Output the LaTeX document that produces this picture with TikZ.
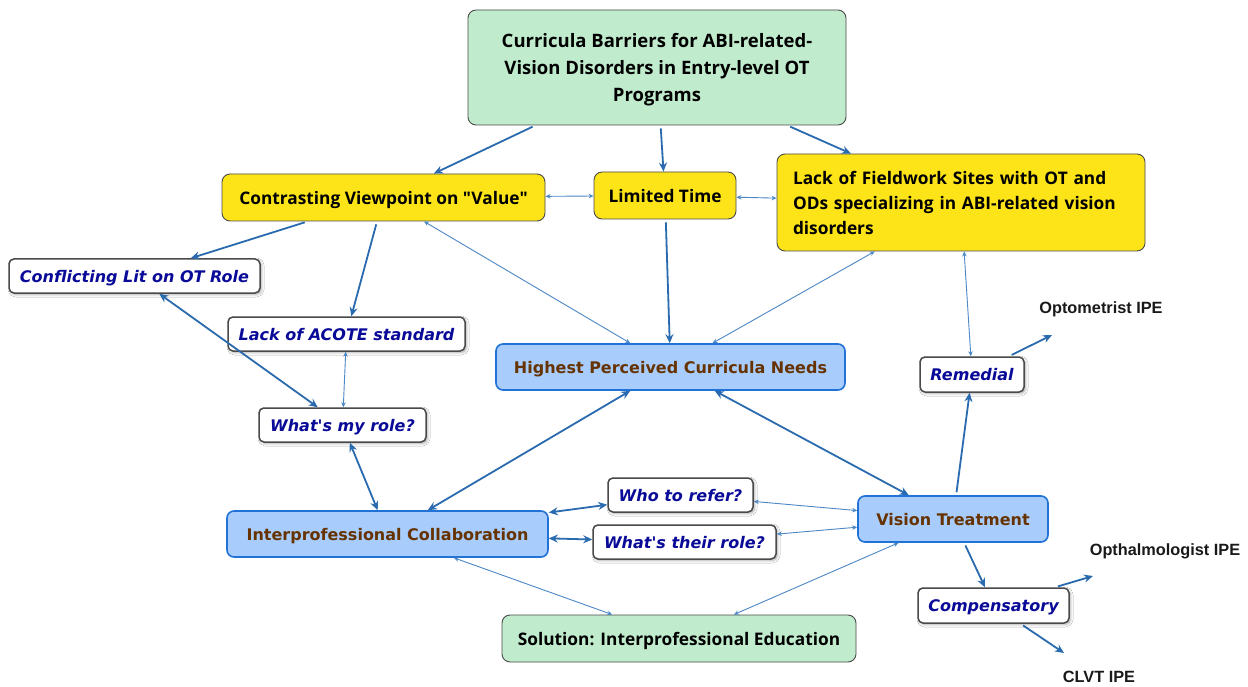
\documentclass[tikz,border=0pt]{standalone}
\usepackage{fontspec}
\setmainfont{Open Sans}[Ligatures=TeXOff]
\newfontfamily\verafont{DejaVu Sans}
\newfontfamily\arialfont{Liberation Sans}
\usetikzlibrary{arrows.meta,shadows.blur}

\definecolor{greenfill}{HTML}{C0ECCD}
\definecolor{yellowfill}{HTML}{FDE418}
\definecolor{bluefill}{HTML}{A8CCFC}
\definecolor{blueedge}{HTML}{2172D6}
\definecolor{boxedge}{HTML}{4A4A4A}
\definecolor{navytext}{HTML}{0A0A99}
\definecolor{browntext}{HTML}{663300}
\definecolor{linkdark}{HTML}{2A6AAE}
\definecolor{linklight}{HTML}{4C87C6}

\tikzset{
  basebox/.style={inner sep=0pt, align=center, text depth=0pt},
  greenbox/.style={basebox, draw=boxedge, fill=greenfill, rounded corners=8pt, line width=0.9pt,
    font=\fontsize{17.3}{27}\selectfont\bfseries},
  yellowbox/.style={basebox, draw=boxedge, fill=yellowfill, rounded corners=8pt, line width=0.9pt,
    font=\fontsize{17.3}{25}\selectfont\bfseries},
  bluebox/.style={basebox, draw=blueedge, fill=bluefill, rounded corners=7pt, line width=1.6pt,
    text=browntext, font=\verafont\fontsize{16}{20}\selectfont\bfseries},
  whitebox/.style={basebox, draw=boxedge, fill=white, rounded corners=5pt, line width=1.5pt,
    text=navytext, font=\verafont\fontsize{16}{20}\selectfont\bfseries\itshape,
    blur shadow={shadow xshift=1.5pt, shadow yshift=-1.5pt, shadow blur radius=2.5pt, shadow opacity=35}},
  ipelabel/.style={inner sep=0pt, text=black!90, font=\arialfont\fontsize{16.3}{18}\selectfont\bfseries},
  thicklink/.style={draw=linkdark, line width=1.8pt, -{Stealth[length=9pt,width=8pt]}, shorten <=3pt},
  thickboth/.style={draw=linkdark, line width=1.8pt, {Stealth[length=9pt,width=8pt]}-{Stealth[length=9pt,width=8pt]}},
  thinboth/.style={draw=linklight, line width=0.9pt, {Stealth[length=5pt,width=4.5pt]}-{Stealth[length=5pt,width=4.5pt]}},
}

\begin{document}
\begin{tikzpicture}[x=1pt, y=-1pt]
  \fill[white] (0,0) rectangle (1248,687);
  \useasboundingbox (0,0) rectangle (1248,687);

  % top-level barrier
  \node[greenbox, minimum width=378pt, minimum height=115pt,
        font=\fontsize{18.5}{27}\selectfont\bfseries] (top) at (657,67.5)
    {Curricula Barriers for ABI-related-\\Vision Disorders in Entry-level OT\\Programs};

  % barriers
  \node[yellowbox, minimum width=323pt, minimum height=47pt] (contrast) at (383.5,197.5)
    {Contrasting Viewpoint on "Value"};
  \node[yellowbox, minimum width=142pt, minimum height=47pt] (limited) at (665,195.5)
    {Limited Time};
  \node[yellowbox, text depth=, minimum width=368pt, minimum height=97pt, text width=336pt,
        inner xsep=16pt, align=left] (lack) at (961,202.5)
    {Lack of Fieldwork Sites with OT and\\ODs specializing in ABI-related vision\\disorders};

  % questions and sub-topics
  \node[whitebox, minimum width=251pt, minimum height=34pt] (conflict) at (134.5,276)
    {Conflicting Lit on OT Role};
  \node[whitebox, minimum width=237pt, minimum height=34pt] (acote) at (346.5,334)
    {Lack of ACOTE standard};
  \node[whitebox, minimum width=167pt, minimum height=34pt] (myrole) at (342.5,425)
    {What's my role?};
  \node[whitebox, minimum width=104pt, minimum height=35pt] (remedial) at (972,374.5)
    {Remedial};
  \node[whitebox, minimum width=145pt, minimum height=34pt] (refer) at (680.5,495)
    {Who to refer?};
  \node[whitebox, minimum width=183pt, minimum height=34pt] (theirrole) at (684.5,542)
    {What's their role?};
  \node[whitebox, minimum width=151pt, minimum height=35pt] (comp) at (993.5,605.5)
    {Compensatory};

  % curricula needs
  \node[bluebox, minimum width=349pt, minimum height=46pt] (needs) at (670.5,367)
    {Highest Perceived Curricula Needs};
  \node[bluebox, minimum width=321pt, minimum height=46pt] (ipc) at (387.5,534)
    {Interprofessional Collaboration};
  \node[bluebox, minimum width=190pt, minimum height=46pt] (vision) at (953,519)
    {Vision Treatment};

  % solution
  \node[greenbox, minimum width=354pt, minimum height=47pt] (solution) at (679,638.5)
    {Solution: Interprofessional Education};

  % IPE labels and arrow tips
  \node[ipelabel] (optlabel) at (1101,309) {Optometrist IPE};
  \node[ipelabel] (opthlabel) at (1165,551) {Opthalmologist IPE};
  \node[ipelabel] (clvtlabel) at (1099,677) {CLVT IPE};
  \coordinate (opttip) at (1052,335);
  \coordinate (opthtip) at (1093,576);
  \coordinate (clvttip) at (1064,653);

  % main arrows
  \draw[thicklink] (top) -- (contrast);
  \draw[thicklink] (top) -- (limited);
  \draw[thicklink] (top) -- (lack);
  \draw[thicklink] (contrast) -- (conflict);
  \draw[thicklink] (contrast) -- (acote);
  \draw[thicklink] (limited) -- (needs);
  \draw[thicklink] (vision) -- (remedial);
  \draw[thicklink] (vision) -- (comp);
  \draw[thicklink] (remedial) -- (opttip);
  \draw[thicklink] (comp) -- (opthtip);
  \draw[thicklink] (comp) -- (clvttip);

  \draw[thickboth] (conflict) -- (myrole);
  \draw[thickboth] (myrole) -- (ipc);
  \draw[thickboth] (needs) -- (ipc);
  \draw[thickboth] (needs) -- (vision);
  \draw[thickboth] (ipc) -- (refer);
  \draw[thickboth] (ipc) -- (theirrole);

  % light links
  \draw[thinboth] (contrast) -- (limited);
  \draw[thinboth] (limited) -- (lack);
  \draw[thinboth] (acote) -- (myrole);
  \draw[thinboth] (contrast) -- (needs);
  \draw[thinboth] (lack) -- (needs);
  \draw[thinboth] (lack) -- (remedial);
  \draw[thinboth] (vision) -- (refer);
  \draw[thinboth] (vision) -- (theirrole);
  \draw[thinboth] (ipc) -- (solution);
  \draw[thinboth] (vision) -- (solution);
\end{tikzpicture}
\end{document}
